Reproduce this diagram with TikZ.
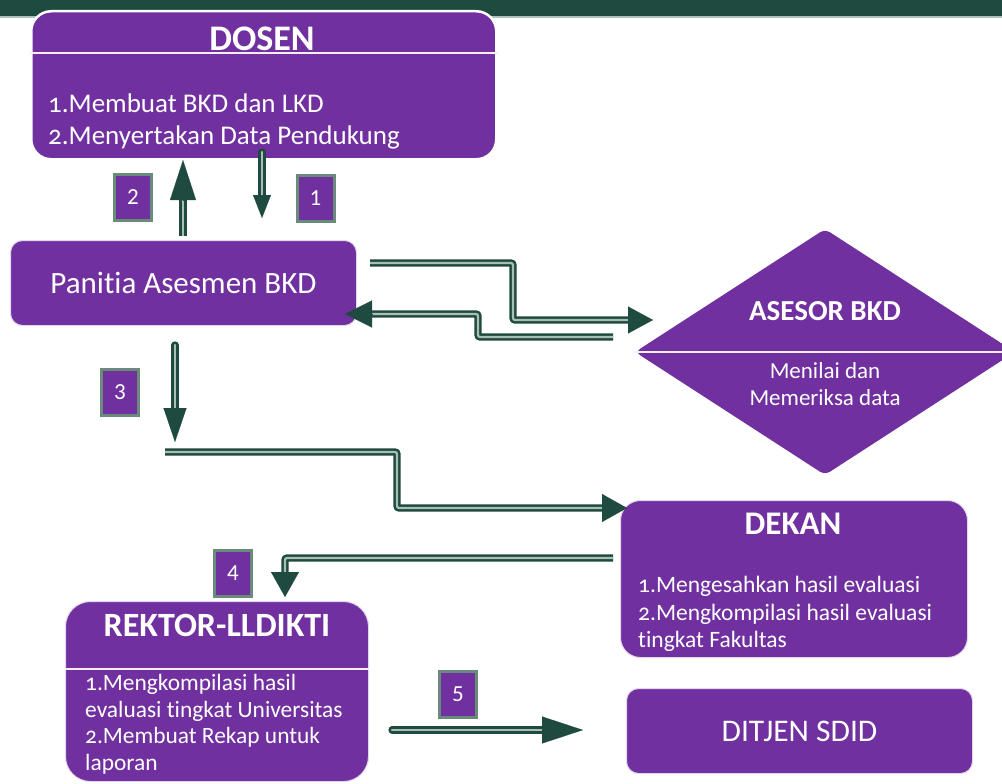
\documentclass[tikz,border=0pt]{standalone}
\usepackage{fontspec}
\setmainfont{Carlito}[Ligatures=NoCommon]
\newfontfamily\osfont{Carlito}[Numbers=OldStyle, Ligatures=NoCommon]
\usetikzlibrary{arrows.meta,shapes.geometric}
\definecolor{dkgreen}{HTML}{1E4A3F}
\definecolor{purp}{HTML}{7030A0}
\definecolor{lblbord}{HTML}{6A8A7B}
\definecolor{pipein}{HTML}{A9BFB5}
\newcommand{\num}[1]{{\osfont #1}}
\begin{document}
\begin{tikzpicture}[x=1pt,y=-1pt,
  box/.style={fill=purp, draw=white!80!purp, line width=1pt, inner sep=0pt, text=white},
  divider/.style={draw=white!92!purp, line width=2pt},
  body/.style={text=white, inner sep=0pt, anchor=base west},
  ttl/.style={text=white, inner sep=0pt, font=\bfseries\fontsize{#1}{#1}\selectfont},
  lbl/.style={fill=purp, draw=lblbord, line width=3pt, minimum width=37pt, minimum height=46pt, inner sep=0pt, text=white, font=\fontsize{23}{26}\selectfont},
  pipe/.style={draw=dkgreen, line width=2.5pt, double=pipein, double distance=2.2pt, rounded corners=2pt},
  hd/.style 2 args={draw=dkgreen, fill=dkgreen, line width=0.1pt, -{Triangle[length=#1pt, width=#2pt]}}
]
\useasboundingbox (0,0) rectangle (1002,784);
% top bar
\fill[dkgreen] (0,0) rectangle (1002,16);
\draw[dkgreen!35, line width=1.5pt] (0,17) -- (1002,17);

% DOSEN
\node[box, rounded corners=20pt, draw=white, line width=2.5pt, minimum width=465pt, minimum height=148pt, anchor=north west] (dosen) at (30,10) {};
\draw[divider] (dosen.west |- 0,53) -- (dosen.east |- 0,53);
\node[ttl=36] (dosenT) at (262,39) {DOSEN};
\node[body, font=\fontsize{27}{32}\selectfont] (dosen1) at (48,112) {\num{1.}Membuat BKD dan LKD};
\node[body, font=\fontsize{27}{32}\selectfont] (dosen2) at (48,144) {\num{2.}Menyertakan Data Pendukung};

% Panitia
\node[box, rounded corners=12pt, minimum width=346pt, minimum height=85pt, anchor=north west, font=\fontsize{31}{36}\selectfont] (panitia) at (10,240) {Panitia Asesmen BKD};

% ASESOR diamond
\node[diamond, fill=purp, minimum width=380pt, minimum height=246pt, inner sep=0pt, rounded corners=6pt] (asesor) at (825,352) {};
\draw[divider] (asesor.west) -- (asesor.east);
\node[ttl=29] (asesorT) at (825,311) {ASESOR BKD};
\node[text=white, inner sep=0pt, anchor=base, font=\fontsize{23}{27}\selectfont] (asesor1) at (825,378) {Menilai dan};
\node[text=white, inner sep=0pt, anchor=base, font=\fontsize{23}{27}\selectfont] (asesor2) at (825,405) {Memeriksa data};

% DEKAN
\node[box, rounded corners=20pt, minimum width=347pt, minimum height=157pt, anchor=north west] (dekan) at (620,500) {};
\node[ttl=33] (dekanT) at (793,524) {DEKAN};
\node[body, font=\fontsize{23.5}{27}\selectfont] (dekan1) at (638,592) {\num{1.}Mengesahkan hasil evaluasi};
\node[body, font=\fontsize{23.5}{27}\selectfont] (dekan2) at (638,620) {\num{2.}Mengkompilasi hasil evaluasi};
\node[body, font=\fontsize{23.5}{27}\selectfont] (dekan3) at (638,647) {tingkat Fakultas};

% REKTOR
\node[box, rounded corners=25pt, minimum width=303pt, minimum height=180pt, anchor=north west] (rektor) at (65,601) {};
\draw[divider] (rektor.west |- 0,669) -- (rektor.east |- 0,669);
\node[ttl=34] (rektorT) at (217,625) {REKTOR-LLDIKTI};
\node[body, font=\fontsize{23.4}{27}\selectfont] (rektor1) at (85,690) {\num{1.}Mengkompilasi hasil};
\node[body, font=\fontsize{23.4}{27}\selectfont] (rektor2) at (85,717) {evaluasi tingkat Universitas};
\node[body, font=\fontsize{23.4}{27}\selectfont] (rektor3) at (85,743) {\num{2.}Membuat Rekap untuk};
\node[body, font=\fontsize{23.4}{27}\selectfont] (rektor4) at (85,770) {laporan};

% DITJEN
\node[box, rounded corners=12pt, minimum width=346pt, minimum height=85pt, anchor=north west, font=\fontsize{31.5}{36}\selectfont] (ditjen) at (626,688) {DITJEN SDID};

% step labels
\node[lbl] (l2) at (133,197) {2};
\node[lbl] (l1) at (315.5,198) {1};
\node[lbl] (l3) at (120,392) {3};
\node[lbl] (l4) at (233,573) {4};
\node[lbl] (l5) at (458,694.5) {5};

% coordinates
\coordinate (u2s) at (183,236);
\coordinate (u2b) at (183,200);
\coordinate (u2t) at (183,160);
\coordinate (d1s) at (262,152);
\coordinate (d1b) at (262,195);
\coordinate (d1t) at (262,218);
\coordinate (pas) at (370,263);
\coordinate (pab) at (628,320);
\coordinate (pat) at (653,320);
\coordinate (aps) at (613,337);
\coordinate (apb) at (372,314);
\coordinate (apt) at (345,314);
\coordinate (d3s) at (175,345);
\coordinate (d3b) at (175,408);
\coordinate (d3t) at (175,442);
\coordinate (t3s) at (165,452);
\coordinate (t3b) at (602,508);
\coordinate (t3t) at (627,508);
\coordinate (t4s) at (613,558);
\coordinate (t4b) at (285,572);
\coordinate (t4t) at (285,597);
\coordinate (t5s) at (392,730);
\coordinate (t5b) at (542,730);
\coordinate (t5t) at (583,730);

% connectors
\draw[pipe] (u2s) -- (u2b);
\draw[hd={40}{26}] (u2b) -- (u2t);
\draw[pipe, line cap=round] (d1s) -- (d1b);
\draw[hd={23}{18}] (d1b) -- (d1t);
\draw[pipe] (pas) -- (513,263) -- (513,320) -- (pab);
\draw[hd={25}{27}] (pab) -- (pat);
\draw[pipe] (aps) -- (478,337) -- (478,314) -- (apb);
\draw[hd={27}{27}] (apb) -- (apt);
\draw[pipe, line cap=round] (d3s) -- (d3b);
\draw[hd={34}{23}] (d3b) -- (d3t);
\draw[pipe] (t3s) -- (397,452) -- (397,508) -- (t3b);
\draw[hd={25}{28}] (t3b) -- (t3t);
\draw[pipe] (t4s) -- (285,558) -- (t4b);
\draw[hd={25}{28}] (t4b) -- (t4t);
\draw[pipe, line cap=round] (t5s) -- (t5b);
\draw[hd={41}{27}] (t5b) -- (t5t);
\end{tikzpicture}
\end{document}
